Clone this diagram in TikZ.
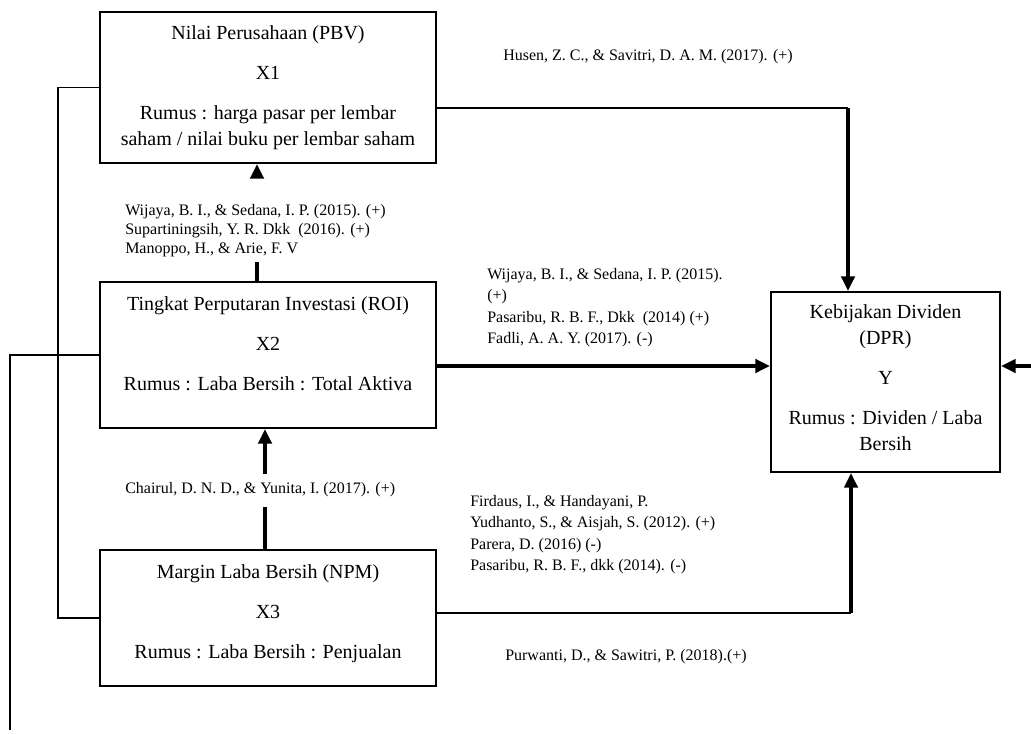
\documentclass[tikz,border=0pt]{standalone}
\usepackage{fontspec}
\setmainfont{Liberation Serif}
\usepackage{tikz}
\usetikzlibrary{arrows.meta}

\begin{document}
\begin{tikzpicture}[x=0.75pt,y=-0.75pt,
  box/.style={draw, line width=1.6pt, align=center, inner sep=0pt,
    font=\fontsize{15}{19.5}\selectfont},
  cite/.style={anchor=west, align=left, inner sep=0pt,
    font=\fontsize{12}{16}\selectfont},
  lnk/.style={line width=0.9pt},
  thk/.style={line width=2.8pt},
  arr/.style={thk, -{Triangle[length=11pt,width=10pt]}}]
\useasboundingbox (0,0) rectangle (1031,733);
% Variables
\node[box, minimum width=252pt, minimum height=113.25pt] (X1) at (268,87.5)
  {Nilai Perusahaan (PBV)\\[10.5pt]X1\\[10.5pt]Rumus : harga pasar per lembar\\saham / nilai buku per lembar saham};
\node[box, minimum width=252pt, minimum height=109.5pt] (X2) at (268,355)
  {Tingkat Perputaran Investasi (ROI)\\[10.5pt]X2\\[10.5pt]Rumus : Laba Bersih : Total Aktiva\\[-3pt]\mbox{}};
\node[box, minimum width=252pt, minimum height=102pt] (X3) at (268,618)
  {Margin Laba Bersih (NPM)\\[10.5pt]X3\\[10.5pt]Rumus : Laba Bersih : Penjualan\\[-9.75pt]\mbox{}};
\node[box, minimum width=171.75pt, minimum height=135pt] (Y) at (885.5,382)
  {Kebijakan Dividen\\(DPR)\\[10.5pt]Y\\[10.5pt]Rumus : Dividen / Laba\\Bersih\\[-12.75pt]\mbox{}};
% X1 -> Y
\coordinate (k1) at (848,108);
\draw[lnk] (X1.east |- k1) -- (k1);
\draw[arr] (k1) -- (Y.north -| k1);
\node[cite] (husen) at (503,57) {Husen, Z. C., \& Savitri, D. A. M. (2017). (+)};
% X2 -> Y
\coordinate (k2) at (600,366);
\draw[arr] (X2.east |- k2) -- (Y.west |- k2);
\node[cite] (wijaya) at (487,307.5) {Wijaya, B. I., \& Sedana, I. P. (2015).\\(+)\\Pasaribu, R. B. F., Dkk\ \ (2014) (+)\\Fadli, A. A. Y. (2017). (-)};
% X3 -> Y
\coordinate (k3) at (851,613);
\draw[lnk] (X3.east |- k3) -- (k3);
\draw[arr] (k3) -- (Y.south -| k3);
\node[cite] (firdaus) at (470,534.5) {Firdaus, I., \& Handayani, P.\\Yudhanto, S., \& Aisjah, S. (2012). (+)\\Parera, D. (2016) (-)\\Pasaribu, R. B. F., dkk (2014). (-)};
\node[cite] (purwanti) at (505,657) {Purwanti, D., \& Sawitri, P. (2018).(+)};
% right edge -> Y
\coordinate (k4) at (1031,366);
\draw[arr] (k4) -- (Y.east |- k4);
% X2 -> X1
\coordinate (k21) at (257,177);
\draw[thk] (X2.north -| k21) -- ++(0,-19);
\draw[arr] (k21) -- (X1.south -| k21);
\node[cite, font=\fontsize{12}{14}\selectfont] (wijaya2) at (125,230.5) {Wijaya, B. I., \& Sedana, I. P. (2015). (+)\\Supartiningsih, Y. R. Dkk\ \ (2016). (+)\\Manoppo, H., \& Arie, F. V};
% X3 -> X2
\coordinate (k32) at (265,474);
\draw[thk] (X3.north -| k32) -- ++(0,-42);
\draw[arr] (k32) -- (X2.south -| k32);
\node[cite] (chairul) at (125,490) {Chairul, D. N. D., \& Yunita, I. (2017). (+)};
% left side lines
\coordinate (k5) at (58,618);
\draw[lnk] (X1.west) -| (k5) -- (X3.west);
\coordinate (k6) at (10,730);
\draw[lnk] (X2.west) -| (k6);
\end{tikzpicture}
\end{document}
